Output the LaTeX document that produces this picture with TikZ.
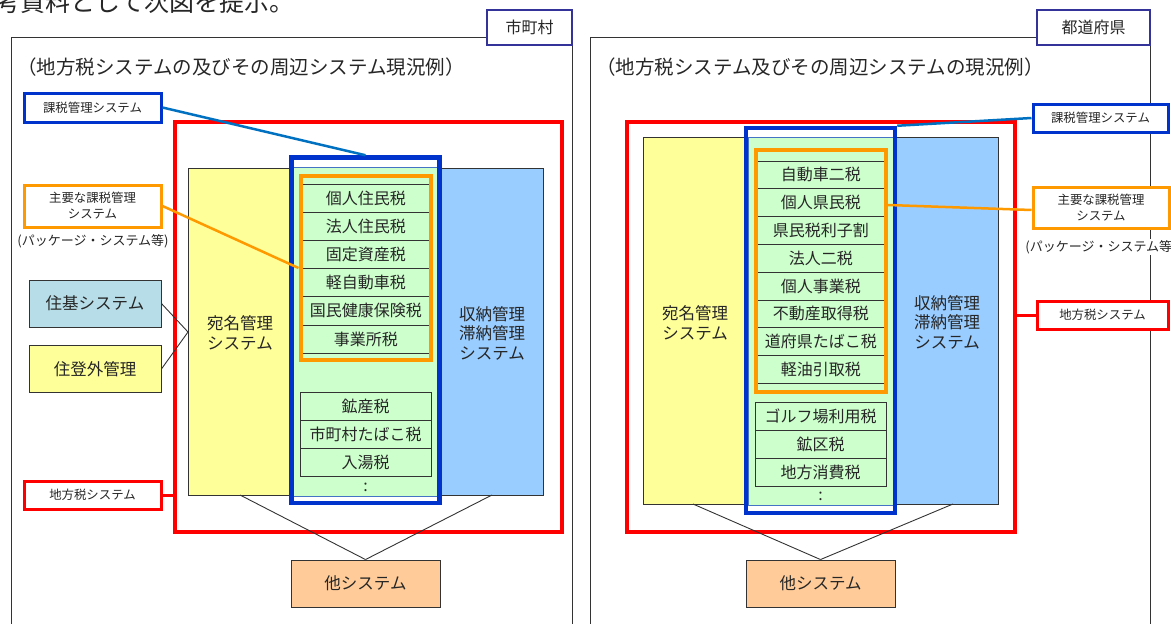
\documentclass[tikz,border=0pt]{standalone}
\usepackage{fontspec}
\setmainfont{Noto Sans CJK JP}
\usetikzlibrary{calc}
\definecolor{kred}{HTML}{FF0000}
\definecolor{kblue}{HTML}{0033CC}
\definecolor{klink}{HTML}{0070C0}
\definecolor{korange}{HTML}{FF9900}
\definecolor{kyellow}{HTML}{FFFF99}
\definecolor{kgreen}{HTML}{CCFFCC}
\definecolor{klblue}{HTML}{99CCFF}
\definecolor{kcyan}{HTML}{B7DEE8}
\definecolor{kpeach}{HTML}{FFCC99}
\definecolor{knavy}{HTML}{333399}
\definecolor{ktext}{HTML}{262626}
\definecolor{kline}{HTML}{333333}
\definecolor{kgline}{HTML}{4472C4}
\begin{document}
\begin{tikzpicture}[x=1pt,y=-1pt,
  every node/.style={text=ktext},
  lbl/.style={draw, fill=white, line width=3pt, inner sep=0pt, minimum width=137,
    font=\fontsize{12.4}{16}\selectfont, align=center},
  note/.style={fill=white, inner sep=1pt, font=\fontsize{13}{16}\selectfont},
  tag/.style={draw=knavy, fill=white, line width=2.5pt, inner sep=0pt, minimum height=35,
    font=\fontsize{16}{19}\selectfont},
  sysbox/.style={draw=kline, line width=0.9pt, inner sep=0pt, font=\fontsize{16.5}{19}\selectfont},
  txt/.style={inner sep=0pt, align=center, font=\fontsize{16.5}{19.5}\selectfont},
  taxrow/.style={draw=kline, line width=0.9pt, inner sep=0pt, font=\fontsize{16}{19}\selectfont},
  frame/.style={draw, inner sep=0pt, fill=none},
  title/.style={anchor=west, inner sep=0pt, font=\fontsize{19.5}{23}\selectfont},
  conn/.style={draw=kline, line width=0.9pt}
]
\path[use as bounding box] (0,0) rectangle (1171,624);
\clip (0,0) rectangle (1171,624);

% leading text (cut by the top edge)
\node[anchor=base west, inner sep=0pt, font=\fontsize{25}{29}\selectfont] (lead) at (-5,11) {考資料として次図を提示。};

% panels
\draw[kline, line width=1pt] (11,640) -- (11,37) -- (572,37) -- (572,640);
\draw[kline, line width=1pt] (590,640) -- (590,37) -- (1150,37) -- (1150,640);
\node[tag, minimum width=85] (cityTag) at (529.5,27.5) {市町村};
\node[tag, minimum width=113] (prefTag) at (1093.5,27.5) {都道府県};
\node[title] (titleL) at (17,67) {（地方税システムの及びその周辺システム現況例）};
\node[title] (titleR) at (596,67) {（地方税システム及びその周辺システムの現況例）};

% red frames
\node[frame, draw=kred, line width=4pt, minimum width=387, minimum height=410] (redL) at (368.5,327) {};
\node[frame, draw=kred, line width=4pt, minimum width=388, minimum height=410] (redR) at (821,327) {};

% ---------- left panel body ----------
\fill[kyellow] (188,168) rectangle (543,495);
\fill[klblue] (437,168) rectangle (543,495);
\node[frame, draw=kline, line width=0.9pt, minimum width=355, minimum height=327] (bigL) at (365.5,331.5) {};
\filldraw[fill=kgreen, draw=kgline, line width=0.8pt] (293,167) rectangle (437,496);
\node[txt] (atenaL) at (240,333) {宛名管理\\システム};
\node[txt] (shunoL) at (492,333) {収納管理\\滞納管理\\システム};

\node[taxrow, minimum width=130.5, minimum height=28.2] (l1) at (365.75,198.1) {個人住民税};
\node[taxrow, minimum width=130.5, minimum height=28.2] (l2) at (365.75,226.3) {法人住民税};
\node[taxrow, minimum width=130.5, minimum height=28.2] (l3) at (365.75,254.5) {固定資産税};
\node[taxrow, minimum width=130.5, minimum height=28.2] (l4) at (365.75,282.7) {軽自動車税};
\node[taxrow, minimum width=130.5, minimum height=28.2] (l5) at (365.75,310.9) {国民健康保険税};
\node[taxrow, minimum width=130.5, minimum height=28.2] (l6) at (365.75,339.1) {事業所税};
\node[frame, draw=korange, line width=4pt, minimum width=130.5, minimum height=184] (ofL) at (365.75,268) {};

\node[taxrow, minimum width=131, minimum height=28] (l7) at (365.5,406) {鉱産税};
\node[taxrow, minimum width=131, minimum height=28] (l8) at (365.5,434) {市町村たばこ税};
\node[taxrow, minimum width=131, minimum height=28] (l9) at (365.5,462) {入湯税};
\node[inner sep=0pt, font=\fontsize{16}{19}\selectfont] (dotsL) at (365.5,487) {:};
\node[frame, draw=kblue, line width=4.5pt, minimum width=148, minimum height=345.5] (bfL) at (365.5,330.25) {};

\node[sysbox, fill=kpeach, minimum width=149, minimum height=47] (otherL) at (365.5,583.5) {他システム};
\coordinate (bLl) at (240,495);
\coordinate (bLr) at (492,495);
\draw[conn] (bLl) -- (otherL.north);
\draw[conn] (bLr) -- (otherL.north);

% left labels
\node[lbl, draw=kblue, minimum height=29] (kazeiL) at (92.5,107.5) {課税管理システム};
\node[lbl, draw=korange, minimum height=42] (mainL) at (92.5,206) {主要な課税管理\\システム};
\node[note] (pkgL) at (93,241) {(パッケージ・システム等)};
\node[sysbox, fill=kcyan, minimum width=132, minimum height=47] (jukiL) at (95,303.5) {住基システム};
\node[sysbox, fill=kyellow, minimum width=132, minimum height=47] (jutoL) at (95,369) {住登外管理};
\node[lbl, draw=kred, minimum height=28] (chihoL) at (92.5,495) {地方税システム};
\coordinate (jL) at (188,332);
\draw[conn] (jukiL.east) -- (jL);
\draw[conn] (jutoL.east) -- (jL);
\draw[klink, line width=2.5pt] (kazeiL.east) -- (bfL.north);
\draw[korange, line width=2.5pt] (mainL.east) -- (ofL.west);
\draw[kred, line width=3pt] (chihoL.east) -- (chihoL.east -| redL.west);

% ---------- right panel body ----------
\fill[kyellow] (643,137) rectangle (998,504);
\fill[klblue] (893,137) rectangle (998,504);
\node[frame, draw=kline, line width=0.9pt, minimum width=355, minimum height=367] (bigR) at (820.5,320.5) {};
\filldraw[fill=kgreen, draw=kgline, line width=0.8pt] (748,137) rectangle (893,505);
\node[txt] (atenaR) at (695,323) {宛名管理\\システム};
\node[txt] (shunoR) at (947,322) {収納管理\\滞納管理\\システム};

\node[taxrow, minimum width=130.5, minimum height=27.8] (r1) at (820.75,174.9) {自動車二税};
\node[taxrow, minimum width=130.5, minimum height=27.8] (r2) at (820.75,202.7) {個人県民税};
\node[taxrow, minimum width=130.5, minimum height=27.8] (r3) at (820.75,230.5) {県民税利子割};
\node[taxrow, minimum width=130.5, minimum height=27.8] (r4) at (820.75,258.3) {法人二税};
\node[taxrow, minimum width=130.5, minimum height=27.8] (r5) at (820.75,286.1) {個人事業税};
\node[taxrow, minimum width=130.5, minimum height=27.8] (r6) at (820.75,313.9) {不動産取得税};
\node[taxrow, minimum width=130.5, minimum height=27.8] (r7) at (820.75,341.7) {道府県たばこ税};
\node[taxrow, minimum width=130.5, minimum height=27.8] (r8) at (820.75,369.5) {軽油引取税};
\node[frame, draw=korange, line width=4pt, minimum width=130.5, minimum height=242] (ofR) at (820.75,271) {};

\node[taxrow, minimum width=131, minimum height=28] (r9) at (820.5,416) {ゴルフ場利用税};
\node[taxrow, minimum width=131, minimum height=28] (r10) at (820.5,444) {鉱区税};
\node[taxrow, minimum width=131, minimum height=28] (r11) at (820.5,472) {地方消費税};
\node[inner sep=0pt, font=\fontsize{16}{19}\selectfont] (dotsR) at (820.5,496) {:};
\node[frame, draw=kblue, line width=4.5pt, minimum width=149, minimum height=385] (bfR) at (820.5,320.5) {};

\node[sysbox, fill=kpeach, minimum width=149, minimum height=47] (otherR) at (820.5,583.5) {他システム};
\coordinate (bRl) at (693,504);
\coordinate (bRr) at (953,504);
\draw[conn] (bRl) -- (otherR.north);
\draw[conn] (bRr) -- (otherR.north);

% right labels
\node[lbl, draw=kblue, minimum width=135, minimum height=28] (kazeiR) at (1100.5,118) {課税管理システム};
\node[lbl, draw=korange, minimum width=136, minimum height=41] (mainR) at (1101,207.5) {主要な課税管理\\システム};
\node[note] (pkgR) at (1101,247) {(パッケージ・システム等)};
\node[lbl, draw=kred, minimum width=131, minimum height=28] (chihoR) at (1102.5,315) {地方税システム};
\draw[klink, line width=2.5pt] (kazeiR.west) -- (bfR.north east);
\draw[korange, line width=2.5pt] ($(ofR.east |- mainR.west)+(0,-2.5)$) -- ($(mainR.west)+(0,2.5)$);
\draw[kred, line width=3pt] (redR.east |- chihoR.west) -- (chihoR.west);
\end{tikzpicture}
\end{document}
